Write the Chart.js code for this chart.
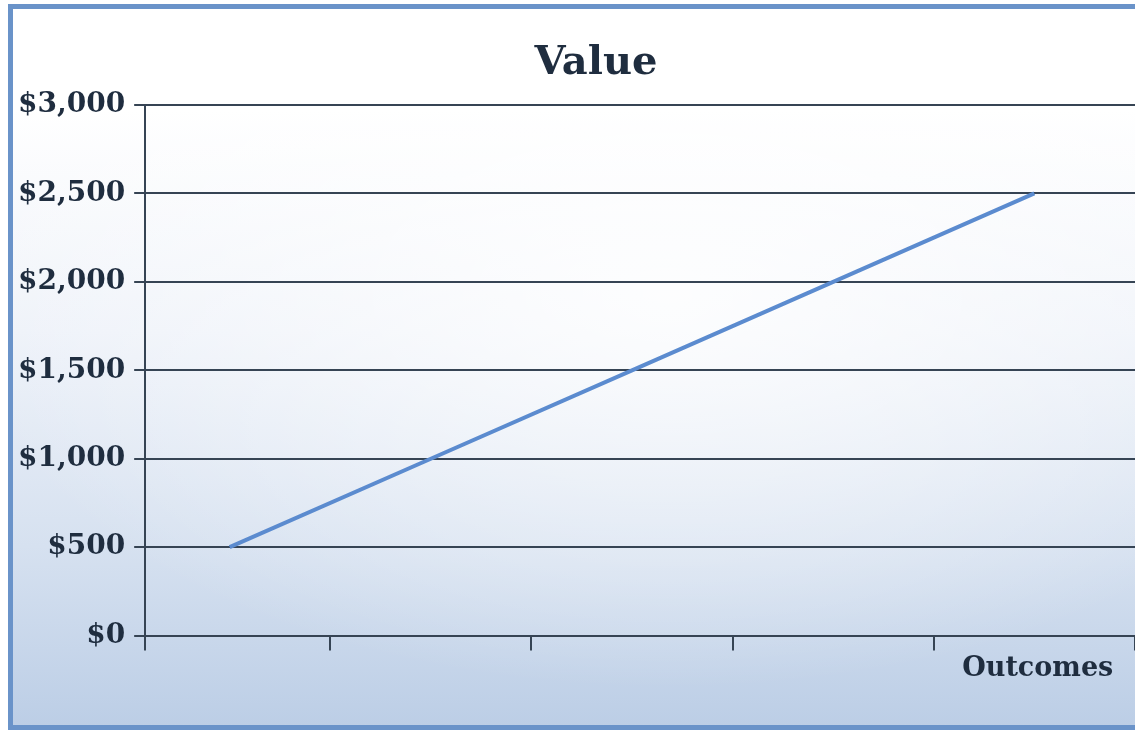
<!DOCTYPE html>
<html>
<head>
<meta charset="utf-8">
<script src="https://cdn.jsdelivr.net/npm/chart.js@4/dist/chart.umd.min.js"></script>
<style>
  html, body { margin: 0; padding: 0; width: 1135px; height: 730px; overflow: hidden; background: #fff; }
  #frame {
    position: absolute; left: 8px; top: 4px; width: 1200px; height: 726px;
    box-sizing: border-box; border: 5px solid #6a93c9;
    background:
      radial-gradient(ellipse 60% 55% at 55% 40%, rgba(255,255,255,0.85) 0%, rgba(255,255,255,0) 100%),
      linear-gradient(to bottom, #ffffff 0%, #ffffff 14%, #eef2f9 45%, #d6e1f0 75%, #bccee6 100%);
  }
  #wrap { position: absolute; left: 0; top: 0; width: 1183px; height: 730px; }
</style>
</head>
<body>
<div id="frame"></div>
<div id="wrap"><canvas id="chart"></canvas></div>
<script>
// 数据
const categories = ['', '', '', '', 'Outcomes'];
const values = [500, 1000, 1500, 2000, 2500];
const yTicks = [0, 500, 1000, 1500, 2000, 2500, 3000];

const serif = "'DejaVu Serif', 'Liberation Serif', serif";
const ink = '#1f2d3f';
const gridCol = '#364454';

// 类别边界刻度：起点 + 各类别右边界（图区右侧超出窗口被裁掉）
const xMin = 0.58, xMax = 5.739;
const bounds = [xMin].concat(categories.map((c, i) => i + 1.5));

const ctx = document.getElementById('chart').getContext('2d');
const chart = new Chart(ctx, {
  type: 'line',
  data: {
    datasets: [{
      label: 'Value',
      data: values.map((v, i) => ({ x: i + 1, y: v })),
      borderColor: '#5b8bcf',
      borderWidth: 4,
      pointRadius: 0,
      tension: 0,
    }]
  },
  options: {
    responsive: true,
    maintainAspectRatio: false,
    animation: false,
    layout: { padding: { top: 40, left: 9, right: 0, bottom: 43 } },
    plugins: {
      legend: { display: false },
      tooltip: { enabled: false },
      title: {
        display: true,
        text: 'Value',
        color: ink,
        font: { family: serif, size: 40, weight: 'bold', lineHeight: 1.2 },
        padding: { top: 0, bottom: 17 }
      }
    },
    scales: {
      x: {
        type: 'linear',
        min: xMin,
        max: xMax,
        afterBuildTicks: axis => { axis.ticks = bounds.map(v => ({ value: v })); },
        ticks: {
          autoSkip: false,
          maxRotation: 0,
          padding: 2,
          labelOffset: 104,
          color: ink,
          font: { family: serif, size: 27, weight: 'bold' },
          callback: v => categories[Math.round(v - 0.5)] || ''
        },
        grid: { drawOnChartArea: false, drawTicks: true, tickLength: 15, color: gridCol, lineWidth: 2 },
        border: { display: true, color: gridCol, width: 2 }
      },
      y: {
        min: 0,
        max: 3000,
        afterBuildTicks: axis => { axis.ticks = yTicks.map(v => ({ value: v })); },
        ticks: {
          padding: 9,
          color: ink,
          font: { family: serif, size: 28, weight: 'bold' },
          callback: v => '$' + v.toLocaleString('en-US')
        },
        grid: { color: gridCol, lineWidth: 2, tickLength: 11 },
        border: { display: true, color: gridCol, width: 2 }
      }
    }
  }
});
</script>
</body>
</html>
